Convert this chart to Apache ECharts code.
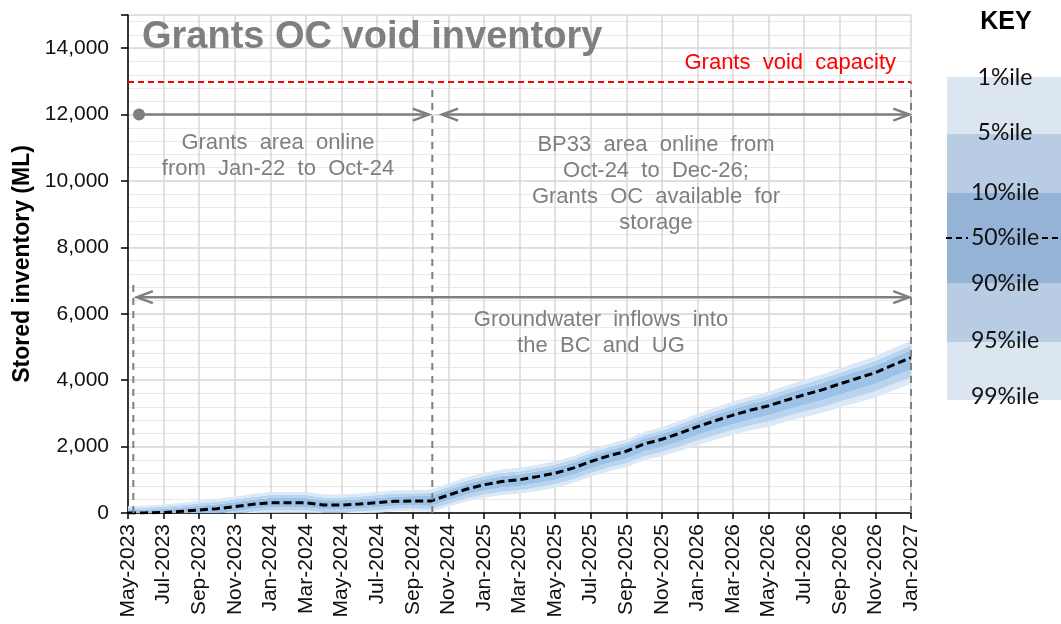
<!DOCTYPE html>
<html>
<head>
<meta charset="utf-8">
<script src="https://cdn.jsdelivr.net/npm/echarts@6/dist/echarts.min.js"></script>
<style>
html,body{margin:0;padding:0;background:#fff;}
#main{width:1061px;height:624px;}
</style>
</head>
<body>
<div id="main"></div>
<script>
// month labels along the x axis (one point per month)
var months = ["May-2023","Jun-2023","Jul-2023","Aug-2023","Sep-2023","Oct-2023","Nov-2023","Dec-2023",
  "Jan-2024","Feb-2024","Mar-2024","Apr-2024","May-2024","Jun-2024","Jul-2024","Aug-2024","Sep-2024","Oct-2024","Nov-2024","Dec-2024",
  "Jan-2025","Feb-2025","Mar-2025","Apr-2025","May-2025","Jun-2025","Jul-2025","Aug-2025","Sep-2025","Oct-2025","Nov-2025","Dec-2025",
  "Jan-2026","Feb-2026","Mar-2026","Apr-2026","May-2026","Jun-2026","Jul-2026","Aug-2026","Sep-2026","Oct-2026","Nov-2026","Dec-2026",
  "Jan-2027"];

// stored inventory percentiles (ML)
var p50 = [0,5,15,50,90,130,190,260,310,310,310,240,240,270,310,355,360,360,540,715,850,950,1000,1095,1200,1350,1550,1720,1860,2080,2220,2400,2600,2780,2950,3100,3230,3400,3560,3710,3890,4060,4230,4460,4680];
var p99 = [200,225,255,310,370,420,490,570,630,630,630,560,560,590,630,675,690,700,890,1075,1210,1310,1360,1455,1560,1710,1910,2080,2220,2440,2590,2780,2990,3180,3360,3520,3660,3840,4010,4170,4360,4540,4720,4960,5190];
var p95 = [145,163,188,237,292,339,406,483,540,540,540,470,470,500,540,585,598,605,792,974,1109,1209,1259,1354,1459,1609,1809,1979,2119,2339,2486,2674,2881,3068,3245,3402,3540,3717,3884,4041,4228,4406,4583,4820,5047];
var p90 = [90,104,123,167,216,261,325,400,454,454,454,384,384,414,454,499,509,513,698,877,1012,1112,1162,1257,1362,1512,1712,1882,2022,2242,2387,2571,2776,2960,3135,3289,3424,3598,3763,3917,4102,4276,4451,4685,4910];
var p10 = [0,0,0,0,0,0,55,125,175,175,175,105,105,135,175,220,225,211,382,548,674,765,811,901,1002,1147,1343,1508,1644,1859,1990,2161,2352,2523,2684,2825,2946,3107,3258,3399,3570,3731,3892,4113,4324];
var p5  = [0,0,0,0,0,0,0,35,85,85,85,15,15,45,85,130,135,112,277,437,557,642,685,772,870,1012,1205,1367,1500,1712,1837,2002,2187,2352,2507,2642,2757,2912,3057,3192,3357,3512,3667,3882,4087];
var p1  = [0,0,0,0,0,0,0,0,10,10,10,0,0,0,10,55,60,30,190,345,460,540,580,665,760,900,1090,1250,1380,1590,1710,1870,2050,2210,2360,2490,2600,2750,2890,3020,3180,3330,3480,3690,3890];

var capacity = 13000;

var FONT = "'Liberation Sans', Arial, sans-serif";
var GREY = "#7f7f7f";

var chart = echarts.init(document.getElementById("main"));

function diff(a, b){ return a.map(function(v,i){ return v - b[i]; }); }

function band(name, data, color){
  return {
    name: name, type: "line", stack: "band", yAxisIndex: 1,
    data: data, symbol: "none", silent: true,
    lineStyle: { width: 0, opacity: 0 },
    areaStyle: color ? { color: color, opacity: 1 } : { opacity: 0 }
  };
}

var option = {
  animation: false,
  grid: { left: 128, right: 150, top: 15, bottom: 111 },
  xAxis: {
    type: "category", data: months, boundaryGap: false,
    axisLine: { lineStyle: { color: "#000", width: 1.5 } },
    axisTick: { show: true, interval: 1, length: 6, lineStyle: { color: "#000", width: 1.5 } },
    axisLabel: { interval: 1, rotate: 90, margin: 11, fontSize: 21, color: "#111", fontFamily: FONT },
    splitLine: { show: true, interval: 1, lineStyle: { color: "#d9d9d9", width: 1.5 } }
  },
  yAxis: [
    { // minor grid every 400
      type: "value", min: 0, max: 15000, interval: 400,
      axisLine: { show: false }, axisTick: { show: false }, axisLabel: { show: false },
      splitLine: { lineStyle: { color: "#e9e9e9", width: 1 } }
    },
    {
      type: "value", position: "left", min: 0, max: 15000, interval: 2000,
      name: "Stored inventory (ML)", nameLocation: "middle", nameGap: 92,
      nameTextStyle: { fontSize: 23, fontWeight: "bold", color: "#000", fontFamily: FONT },
      axisLine: { show: true, lineStyle: { color: "#000", width: 1.5 } },
      axisTick: { show: true, length: 7, lineStyle: { color: "#000", width: 1.5 } },
      axisLabel: {
        fontSize: 21, color: "#111", margin: 19, fontFamily: FONT,
        formatter: function(v){ return v > 14000 ? "" : v.toLocaleString("en-US"); }
      },
      splitLine: { lineStyle: { color: "#d9d9d9", width: 1.5 } }
    }
  ],
  series: [
    band("base", p1, null),
    band("1-5", diff(p5, p1), "#dbe8f6"),
    band("5-10", diff(p10, p5), "#b9d4ef"),
    band("10-90", diff(p90, p10), "#9cc2e7"),
    band("90-95", diff(p95, p90), "#b9d4ef"),
    band("95-99", diff(p99, p95), "#dbe8f6"),
    {
      name: "50%ile", type: "line", yAxisIndex: 1, data: p50, symbol: "none", silent: true,
      lineStyle: { color: "#000", width: 3, type: [8, 4] },
      markLine: {
        silent: true, symbol: "none", label: { show: false },
        lineStyle: { color: "#ff0000", width: 2, type: [6, 4] },
        data: [{ yAxis: capacity }]
      }
    }
  ]
};
chart.setOption(option);

// annotations in (month index, ML) -> pixels, through the chart's own axes
var first = chart.convertToPixel({ gridIndex: 0 }, [0, 0]);
var last = chart.convertToPixel({ gridIndex: 0 }, [months.length - 1, 0]);
function px(x, y){
  var yy = chart.convertToPixel({ yAxisIndex: 1 }, y);
  return [first[0] + x * (last[0] - first[0]) / (months.length - 1), yy];
}

var vlines = [ [0.3, 0, 7000], [17.1, 0, capacity], [44, 0, capacity] ];
var arrows = [
  { x0: 0.62, x1: 16.9, y: 12000, left: false, dot: true },
  { x0: 17.65, x1: 43.9, y: 12000, left: true },
  { x0: 0.5, x1: 43.9, y: 6500, left: true }
];

var g = [];
vlines.forEach(function(v){
  var a = px(v[0], v[1]), b = px(v[0], v[2]);
  g.push({ type: "line", shape: { x1: a[0], y1: a[1], x2: b[0], y2: b[1] },
    style: { stroke: GREY, lineWidth: 2, lineDash: [7, 6] }, z: 10 });
});
arrows.forEach(function(r){
  var a = px(r.x0, r.y), b = px(r.x1, r.y);
  g.push({ type: "line", shape: { x1: a[0], y1: a[1], x2: b[0], y2: b[1] },
    style: { stroke: GREY, lineWidth: 2.5 }, z: 10 });
  g.push({ type: "polyline", shape: { points: [[b[0] - 16, b[1] - 6], [b[0], b[1]], [b[0] - 16, b[1] + 6]] },
    style: { stroke: GREY, lineWidth: 2.5, fill: null }, z: 10 });
  if (r.left) {
    g.push({ type: "polyline", shape: { points: [[a[0] + 16, a[1] - 6], [a[0], a[1]], [a[0] + 16, a[1] + 6]] },
      style: { stroke: GREY, lineWidth: 2.5, fill: null }, z: 10 });
  }
  if (r.dot) {
    g.push({ type: "circle", shape: { cx: a[0], cy: a[1], r: 6 }, style: { fill: GREY }, z: 10 });
  }
});

function txt(text, x, y, size, color, align, weight, family){
  return { type: "text", x: x, y: y, z: 20,
    style: { text: text, fill: color, align: align || "center", verticalAlign: "middle",
      lineHeight: Math.round(size * 1.2),
      font: (weight || "normal") + " " + size + "px " + (family || FONT) } };
}

g.push(txt("Grants OC void inventory", 142, 38, 38, GREY, "left", "bold"));
g.push(txt("Grants  void  capacity", 896, 63, 22, "#ff0000", "right"));
g.push(txt("Grants  area  online\nfrom  Jan-22  to  Oct-24", 278, 156, 22, GREY));
g.push(txt("BP33  area  online  from\nOct-24  to  Dec-26;\nGrants  OC  available  for\nstorage", 656, 184, 22, GREY));
g.push(txt("Groundwater  inflows  into\nthe  BC  and  UG", 601, 333, 22, GREY));

// key
var KEYF = "Lato, 'Noto Sans', sans-serif";
var keyBands = [
  [77, 134, "#dce6f1"], [134, 193, "#b8cce4"], [193, 283, "#95b3d7"],
  [283, 342, "#b8cce4"], [342, 400, "#dce6f1"]
];
keyBands.forEach(function(k){
  g.push({ type: "rect", shape: { x: 947, y: k[0], width: 114, height: k[1] - k[0] }, style: { fill: k[2] }, z: 5 });
});
g.push(txt("KEY", 1006, 22, 25, "#000", "center", "bold"));
[["1%ile", 78], ["5%ile", 133], ["10%ile", 193], ["50%ile", 238], ["90%ile", 284], ["95%ile", 341], ["99%ile", 397]]
  .forEach(function(k){ g.push(txt(k[0], 1005, k[1], 23, "#111", "center", "normal", KEYF)); });
g.push({ type: "line", shape: { x1: 946, y1: 238, x2: 968, y2: 238 }, style: { stroke: "#000", lineWidth: 2, lineDash: [6, 4] }, z: 20 });
g.push({ type: "line", shape: { x1: 1042, y1: 238, x2: 1061, y2: 238 }, style: { stroke: "#000", lineWidth: 2, lineDash: [6, 4] }, z: 20 });

chart.setOption({ graphic: g });
</script>
</body>
</html>
